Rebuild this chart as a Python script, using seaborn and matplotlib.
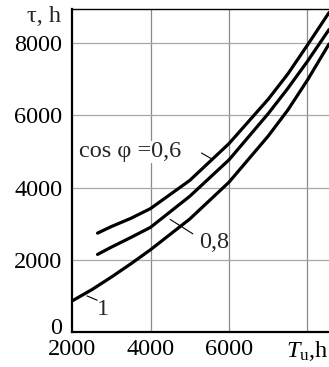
import matplotlib
matplotlib.use("Agg")
import matplotlib.pyplot as plt
import matplotlib.transforms as mtransforms
import pandas as pd
import seaborn as sns

# curve readings (Tu, h -> tau, h)
tu_1 = [2000, 2500, 3000, 3500, 4000, 5000, 6000, 7000, 7500, 8000, 8550]
tau_1 = [860, 1170, 1520, 1890, 2280, 3130, 4150, 5430, 6150, 6980, 7980]
tu_08 = [2650, 3000, 3500, 4000, 5000, 6000, 7000, 7500, 8000, 8550]
tau_08 = [2150, 2350, 2620, 2900, 3760, 4770, 6050, 6750, 7500, 8380]
tu_06 = [2650, 3000, 3500, 4000, 5000, 6000, 7000, 7500, 8000, 8550]
tau_06 = [2740, 2920, 3150, 3420, 4200, 5220, 6450, 7150, 7950, 8850]

x_ticks = [2000, 4000, 6000, 8000]
x_labels = ["2000", "4000", "6000", r"$T_{\mathrm{u}}$,h"]
y_ticks = [0, 2000, 4000, 6000, 8000]
y_labels = ["0", "2000", "4000", "6000", "8000"]

sns.set_theme(style="white")
plt.rcParams["font.family"] = ["Liberation Serif", "DejaVu Serif"]
plt.rcParams["mathtext.fontset"] = "custom"
plt.rcParams["mathtext.rm"] = "Liberation Serif"
plt.rcParams["mathtext.it"] = "Liberation Serif:italic"

FS = 17.5

df = pd.concat([
    pd.DataFrame({"Tu": tu_1, "tau": tau_1, "curve": "1"}),
    pd.DataFrame({"Tu": tu_08, "tau": tau_08, "curve": "0.8"}),
    pd.DataFrame({"Tu": tu_06, "tau": tau_06, "curve": "0.6"}),
])

fig = plt.figure(figsize=(3.29, 3.67), dpi=100)
ax = fig.add_axes([0.219, 0.0954, 0.781, 0.880])

for x in x_ticks[1:]:
    ax.axvline(x, color="#8a8a8a", lw=0.9, zorder=0)
for y in y_ticks[1:]:
    ax.axhline(y, color="#a8a8a8", lw=0.9, zorder=0)

for name, part in df.groupby("curve", sort=False):
    sns.lineplot(data=part, x="Tu", y="tau", ax=ax, color="black", lw=2.3,
                 sort=True, estimator=None, legend=False)

ax.set_xlim(2000, 8550)
ax.set_ylim(0, 8950)
ax.set_xticks(x_ticks)
ax.set_xticklabels(x_labels)
ax.set_yticks(y_ticks)
ax.set_yticklabels(y_labels)
ax.tick_params(axis="both", length=0, labelsize=FS, colors="black")
ax.tick_params(axis="x", pad=5)
ax.tick_params(axis="y", pad=7)
ax.set_xlabel("")
ax.set_ylabel("")

# lift the "0" label a little, as in the original
zero = ax.get_yticklabels()[0]
zero.set_transform(zero.get_transform() + mtransforms.ScaledTranslation(0, 6 / 100, fig.dpi_scale_trans))
# keep the axis-name label inside the picture
last = ax.get_xticklabels()[-1]
last.set_ha("right")
last.set_transform(last.get_transform() + mtransforms.ScaledTranslation(21 / 100, 0, fig.dpi_scale_trans))

for side in ["left", "bottom", "top"]:
    ax.spines[side].set_color("black")
ax.spines["left"].set_linewidth(1.6)
ax.spines["bottom"].set_linewidth(1.6)
ax.spines["top"].set_linewidth(1.0)
ax.spines["right"].set_visible(False)

fig.text(61 / 329, 1 - 17 / 367, "τ, h", ha="right", va="center", fontsize=FS)

# curve labels with leader lines
ax.text(2180, 4990, "cos φ =0,6", ha="left", va="center", fontsize=FS,
        bbox=dict(facecolor="white", edgecolor="none", pad=0.5))
ax.plot([5300, 5570], [4960, 4790], color="black", lw=0.8)
ax.text(5620, 2470, "0,8", ha="center", va="center", fontsize=FS)
ax.plot([4500, 5080], [3120, 2720], color="black", lw=0.8)
ax.text(2790, 620, "1", ha="center", va="center", fontsize=FS)
ax.plot([2380, 2640], [1000, 880], color="black", lw=0.8)

fig.savefig("out.png", dpi=100)
